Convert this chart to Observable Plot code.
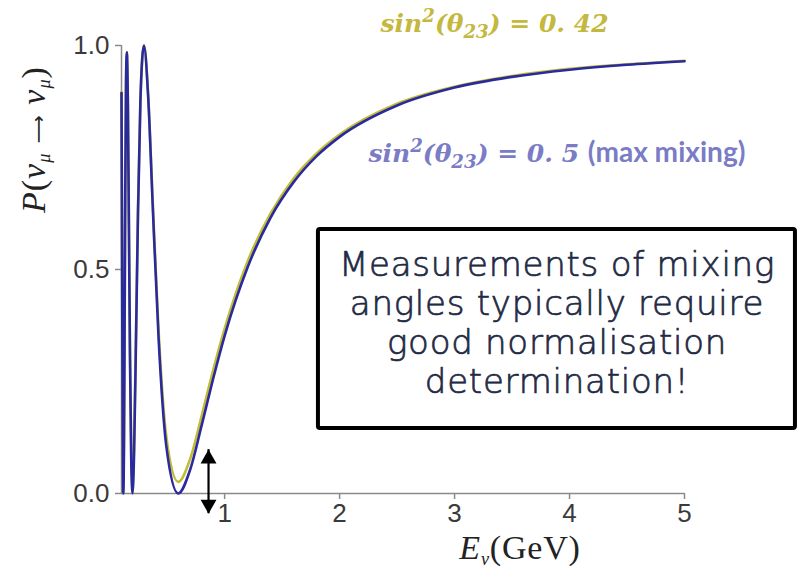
<!DOCTYPE html>
<html><head><meta charset="utf-8">
<script src="https://cdn.jsdelivr.net/npm/d3@7"></script>
<script src="https://cdn.jsdelivr.net/npm/@observablehq/plot@0.6"></script>
<style>
html,body{margin:0;padding:0;background:#fff;}
#chart{width:803px;height:569px;overflow:hidden;}
</style></head><body><div id="chart"></div>
<script>
// Neutrino energy (GeV) sampled along the curves
const energy = [0.1030,0.1064,0.1102,0.1142,0.1193,0.1249,0.1301,0.1357,0.1419,0.1491,
  0.1588,0.1673,0.1767,0.1873,0.1988,0.2129,0.2284,0.2465,0.2676,0.2981,
  0.3345,0.3746,0.4257,0.4930,0.5963,0.70,0.80,0.90,1.00,1.20,
  1.40,1.60,1.80,2.00,2.50,3.00,3.50,4.00,4.50,5.00];
// survival probability, sin^2(theta23) = 0.5 (max mixing)
const probMaxMixing = [0.894,0.658,0.362,0.115,0.000,0.120,0.370,0.665,0.903,0.985,
  0.860,0.601,0.307,0.080,0.000,0.095,0.330,0.626,0.877,1.000,
  0.888,0.642,0.346,0.105,0.000,0.053,0.152,0.256,0.352,0.505,
  0.616,0.695,0.753,0.796,0.866,0.906,0.930,0.946,0.957,0.965];
// survival probability, sin^2(theta23) = 0.42
const prob042 = [0.897,0.667,0.379,0.138,0.026,0.143,0.386,0.674,0.906,0.985,
  0.864,0.612,0.325,0.104,0.026,0.118,0.348,0.635,0.880,1.000,
  0.891,0.651,0.363,0.127,0.026,0.077,0.173,0.275,0.368,0.518,
  0.625,0.703,0.759,0.801,0.870,0.908,0.932,0.948,0.958,0.966];
const xTicks = [1, 2, 3, 4, 5];
const yTicks = [0, 0.5, 1.0];
const label042 = "sin^{2}(θ_{23}) = 0. 42";
const labelMax = "sin^{2}(θ_{23}) = 0. 5 [[(max mixing)]]";
const xLabel = "*E*_{*ν*}(GeV)";
const yLabel = "*P*(*ν*_{*μ*} <<⟶>> *ν*_{*μ*})";
const boxText = "Measurements of mixing\nangles typically require\ngood normalisation\ndetermination!";
const arrowEnergy = [0.86];
const arrowEnds = [0.098, -0.045];

const blue = "#2a2a9f", yellow = "#c4bc34";
const rows042 = energy.map((e, i) => ({E: e, P: prob042[i]}));
const rowsMax = energy.map((e, i) => ({E: e, P: probMaxMixing[i]}));

const chart = Plot.plot({
  width: 803, height: 569,
  marginLeft: 121, marginRight: 119, marginTop: 45, marginBottom: 76,
  x: {domain: [0.103, 5], label: null},
  y: {domain: [0, 1], label: null},
  style: {fontFamily: "Liberation Sans, Arial, sans-serif", fontSize: "26px", background: "white", overflow: "visible"},
  marks: [
    Plot.ruleY([0], {stroke: "#8a8a8a", strokeWidth: 1.5}),
    Plot.ruleX([0.103], {y1: 0, y2: 1, stroke: "#8a8a8a", strokeWidth: 1.5}),
    Plot.axisX({ticks: xTicks, tickFormat: d3.format("d"), tickSize: 6, tickPadding: 4, stroke: "#8a8a8a", strokeWidth: 1.5, fill: "#3a3a3a", fontSize: 26, label: null}),
    Plot.axisY({ticks: yTicks, tickFormat: d3.format(".1f"), tickSize: 6, tickPadding: 6, stroke: "#8a8a8a", strokeWidth: 1.5, fill: "#3a3a3a", fontSize: 26, label: null}),
    Plot.line(rows042, {x: "E", y: "P", stroke: yellow, strokeWidth: 2.6, curve: "monotone-x"}),
    Plot.line(rowsMax, {x: "E", y: "P", stroke: blue, strokeWidth: 2.6, curve: "monotone-x"}),
    Plot.ruleX(arrowEnergy, {y1: arrowEnds[0], y2: arrowEnds[1], stroke: "black", strokeWidth: 2.2}),
    Plot.dot(arrowEnergy, {x: d => d, y: arrowEnds[0], symbol: "triangle", r: 5.9, fill: "black", dy: 9.2}),
    Plot.dot(arrowEnergy, {x: d => d, y: arrowEnds[1], symbol: "triangle", r: 5.9, fill: "black", rotate: 180, dy: -9.2}),
    Plot.text([label042], {x: 2.356, y: 1.0475, text: d => d, textAnchor: "start", fill: "#c4b83e", fontSize: 25, fontWeight: "bold", fontStyle: "italic", fontFamily: "DejaVu Serif, serif"}),
    Plot.text([labelMax], {x: 2.251, y: 0.757, text: d => d, textAnchor: "start", fill: "#7a7cc6", fontSize: 25, fontWeight: "bold", fontStyle: "italic", fontFamily: "DejaVu Serif, serif"}),
    Plot.text([xLabel], {x: 3.569, y: -0.1223, text: d => d, fill: "#222", fontSize: 34, fontFamily: "Liberation Serif, serif"}),
    Plot.text([yLabel], {x: -0.66, y: 0.79, text: d => d, rotate: -90, fill: "#222", fontSize: 34, fontFamily: "Liberation Serif, serif"}),
    Plot.rect([0], {x1: 1.816, x2: 5.965, y1: 0.1451, y2: 0.5893, fill: "white", stroke: "black", strokeWidth: 4, rx: 2}),
    Plot.text([boxText], {x: 3.891, y: 0.3817, text: d => d, fontSize: 34, lineHeight: 39 / 34, fill: "#1f2a44", stroke: "#1f2a44", strokeWidth: 0.7, fontFamily: "DejaVu Sans", fontWeight: 300})
  ]
});

// rich text: ^{} superscript, _{} subscript, *..* italic, [[..]] bold sans, <<..>> DejaVu symbol
function richify(el) {
  const src = el.textContent;
  const base = parseFloat(el.getAttribute("font-size")) || 26;
  const sel = d3.select(el);
  sel.text(null);
  let italic = false, alt = null, level = 0, cur = 0, run = "";
  const alts = {
    sans: {family: "Lato, Open Sans, Liberation Sans, sans-serif", scale: 1.08, weight: "bold"},
    sym: {family: "DejaVu Sans, sans-serif", scale: 0.75, weight: "normal"}
  };
  const flush = () => {
    if (!run) return;
    const t = sel.append("tspan").text(run);
    const target = level === 1 ? -0.38 * base : level === -1 ? 0.22 * base : 0;
    if (target !== cur) { t.attr("dy", target - cur); cur = target; }
    if (level !== 0) t.attr("font-size", 0.7 * base);
    if (alt) { const a = alts[alt]; t.attr("font-style", "normal").attr("font-family", a.family).attr("font-size", a.scale * base).attr("font-weight", a.weight); }
    else if (italic) t.attr("font-style", "italic");
    run = "";
  };
  for (let i = 0; i < src.length; i++) {
    const two = src.slice(i, i + 2);
    if (two === "^{") { flush(); level = 1; i++; }
    else if (two === "_{") { flush(); level = -1; i++; }
    else if (src[i] === "}") { flush(); level = 0; }
    else if (src[i] === "*") { flush(); italic = !italic; }
    else if (two === "[[") { flush(); alt = "sans"; i++; }
    else if (two === "]]") { flush(); alt = null; i++; }
    else if (two === "<<") { flush(); alt = "sym"; i++; }
    else if (two === ">>") { flush(); alt = null; i++; }
    else run += src[i];
  }
  flush();
}
d3.select(chart).selectAll("text").each(function () {
  const s = this.textContent;
  if (s.startsWith("Measurements")) this.style.letterSpacing = "0.75px";
  if (s.includes("GeV")) this.style.letterSpacing = "0.8px";
  if (s.includes("⟶")) this.style.letterSpacing = "1px";
  if (!/\^\{|_\{|\*|\[\[|<</.test(s) || this.querySelectorAll("tspan").length) return;
  richify(this);
});
document.getElementById("chart").appendChild(chart);
</script></body></html>
